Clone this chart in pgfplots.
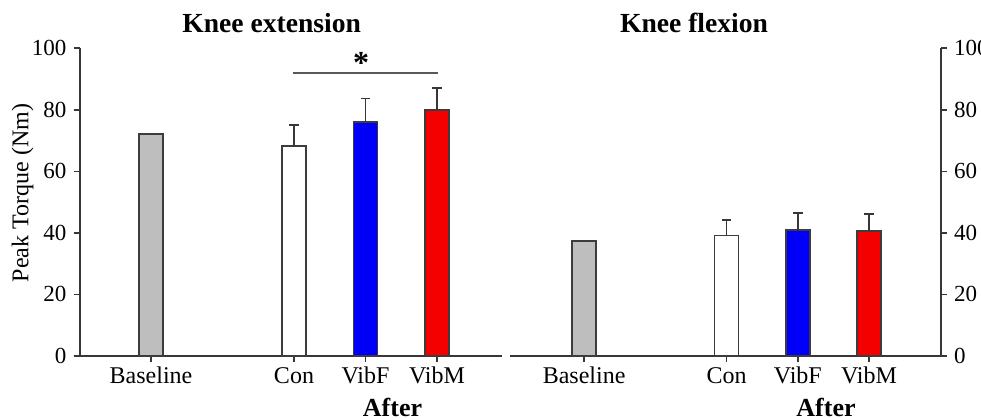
\documentclass[border=0pt]{standalone}
\usepackage{fontspec}
\setmainfont{Liberation Serif}
\usepackage{pgfplots}
\pgfplotsset{compat=1.18}
\definecolor{barblue}{RGB}{0,0,250}
\definecolor{barred}{RGB}{245,0,0}
\definecolor{bargray}{RGB}{190,190,190}
\definecolor{edge}{RGB}{60,60,60}
\definecolor{axisc}{RGB}{55,55,55}
\begin{document}
\begin{tikzpicture}
\useasboundingbox (0,0) rectangle (490.5pt,209pt);
\pgfplotsset{
 mybars/.style={
  scale only axis, height=153.85pt, ymin=0, ymax=100,
  axis x line*=bottom,
  ybar, bar width=12pt, bar shift=0pt,
  xtick={0,2,3,4}, xticklabels={Baseline,Con,VibF,VibM},
  ytick={0,20,...,100},
  tick align=outside, major tick length=3pt,
  tick style={axisc, line width=0.8pt},
  axis line style={axisc, line width=1pt},
  /pgf/number format/assume math mode=true,
  xticklabel style={font=\fontsize{12}{12}\selectfont, text height=0.7em, text depth=0.2em},
  yticklabel style={font=\fontsize{11.5}{12}\selectfont},
  every axis plot/.append style={draw=edge, line width=0.75pt},
  clip=false,
 },
 eb/.style={
  error bars/.cd, y dir=plus, y explicit,
  error mark=|,
  error bar style={draw=axisc, line width=0.9pt, solid},
  error mark options={draw=axisc, line width=0.9pt, mark size=2.4pt},
 },
}
\begin{axis}[mybars, at={(39.75pt,31pt)}, anchor=south west, width=211.1pt,
  xmin=-1, xmax=4.905, axis y line*=left]
\addplot[fill=bargray] coordinates {(0,72.2)};
\addplot[fill=white, eb] coordinates {(2,68.2) +- (0,7.0)};
\addplot[fill=barblue, eb] coordinates {(3,76.1) +- (0,7.6)};
\addplot[fill=barred, eb] coordinates {(4,80.0) +- (0,7.2)};
\draw[black!65, line width=0.9pt] (axis cs:1.98,92.1) -- (axis cs:4.01,92.1);
\node[font=\bfseries\fontsize{16}{16}\selectfont] at (axis cs:2.94,95.2) {*};
\end{axis}
\begin{axis}[mybars, at={(255pt,31pt)}, anchor=south west, width=215.5pt,
  xmin=-1.04, xmax=5.01, axis y line*=right]
\addplot[fill=bargray] coordinates {(0,37.4)};
\addplot[fill=white, eb] coordinates {(2,39.1) +- (0,5.2)};
\addplot[fill=barblue, eb] coordinates {(3,40.9) +- (0,5.6)};
\addplot[fill=barred, eb] coordinates {(4,40.7) +- (0,5.5)};
\end{axis}
\node[anchor=base, font=\bfseries\fontsize{13.8}{14}\selectfont] at (135.85pt,192.5pt) {Knee extension};
\node[anchor=base, font=\bfseries\fontsize{13.8}{14}\selectfont] at (347pt,192.5pt) {Knee flexion};
\node[rotate=90, font=\fontsize{12}{12}\selectfont] at (11.35pt,112.5pt) {Peak Torque (Nm)};
\node[anchor=base, font=\bfseries\fontsize{13}{13}\selectfont] at (196.25pt,1pt) {After};
\node[anchor=base, font=\bfseries\fontsize{13}{13}\selectfont] at (413pt,1pt) {After};
\end{tikzpicture}
\end{document}
